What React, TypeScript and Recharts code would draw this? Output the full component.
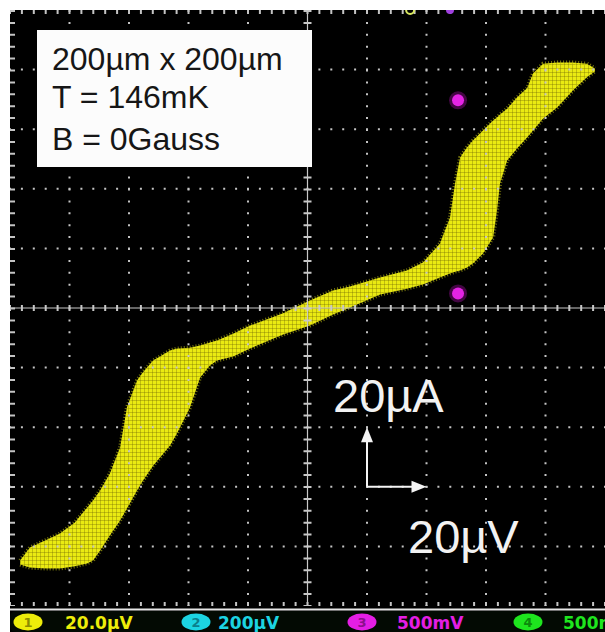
import React from 'react';
import {
    ComposedChart,
    Area,
    Scatter,
    XAxis,
    YAxis,
    ReferenceArea,
    ReferenceLine,
    ReferenceDot
} from 'recharts';

// trace band: voltage (µV), upper / lower edge of current (µA)
const bandVolt = [-96.6, -93.3, -88.2, -83.2, -78.2, -74.1, -72.1, -69.7, -66.4, -63.0, -60.7, -57.3, -55.3, -51.9, -49.6, -46.2, -43.9, -39.5, -36.1, -32.8, -30.4, -25.0, -19.3, -8.2, 0.8, 8.6, 14.3, 24.4, 33.4, 38.8, 44.5, 47.9, 49.6, 51.3, 53.6, 55.6, 59.0, 62.4, 63.7, 64.7, 67.1, 70.4, 73.8, 75.8, 79.2, 83.9, 89.2, 93.9, 96.6];
const bandTop = [-84.7, -80.4, -78.0, -75.7, -72.0, -67.0, -64.6, -61.2, -55.5, -46.8, -33.4, -24.3, -21.6, -17.6, -16.3, -14.3, -13.6, -13.3, -12.6, -11.6, -10.9, -8.6, -5.9, -1.8, 2.5, 5.9, 7.2, 10.2, 12.6, 15.3, 21.6, 30.4, 41.8, 50.5, 53.9, 56.2, 59.6, 62.9, 63.9, 64.9, 66.9, 70.6, 73.7, 78.7, 82.0, 82.4, 82.4, 82.0, 80.4];
const bandBottom = [-86.1, -87.1, -87.4, -87.4, -86.7, -85.7, -84.7, -81.4, -76.3, -71.3, -67.3, -61.2, -57.9, -52.9, -50.2, -46.1, -42.1, -33.4, -23.3, -19.3, -17.6, -16.3, -13.6, -8.9, -5.9, -2.2, 0.2, 4.5, 6.5, 7.9, 10.2, 11.6, 12.2, 12.6, 13.6, 14.9, 18.3, 23.7, 32.7, 41.8, 49.5, 53.5, 57.2, 59.6, 63.6, 67.3, 73.0, 77.4, 79.4];

// channel 3 markers
const markerVolt = [50.6, 50.6];
const markerCurr = [69.7, 4.9];

// graticule: 20 µV/div horizontally, 20 µA/div vertically
const gridLines = [-80, -60, -40, -20, 20, 40, 60, 80];
const FULL = 100;

// status bar channels
const channels = [
    { n: '1', label: '20.0µV', color: '#eded0a', dark: '#8c8c00', cx: 28, tx: 65 },
    { n: '2', label: '200µV', color: '#1cd4e2', dark: '#0b7f8c', cx: 196, tx: 218 },
    { n: '3', label: '500mV', color: '#e41ee4', dark: '#8a108a', cx: 362, tx: 397 },
    { n: '4', label: '500mV', color: '#1ee61e', dark: '#0c8a0c', cx: 528, tx: 563 }
];

const band = bandVolt.map((v, i) => ({ v, range: [bandBottom[i], bandTop[i]] }));
const markers = markerVolt.map((v, i) => ({ v, i: markerCurr[i] }));

const DOTS = '2 9.9';
const GRAY = '#c4c4c4';

const ArrowUp = (p: any) => (
    <path d={`M${p.cx} ${p.cy} L${p.cx - 6} ${p.cy + 15} L${p.cx + 6} ${p.cy + 15} Z`} fill="#f4f4f4" />
);
const ArrowRight = (p: any) => (
    <path d={`M${p.cx} ${p.cy} L${p.cx - 15} ${p.cy - 6} L${p.cx - 15} ${p.cy + 6} Z`} fill="#f4f4f4" />
);

const App: React.FC = () => {
    const sans = "'Liberation Sans', Arial, sans-serif";
    return (
        <div style={{ position: 'absolute', left: 0, top: 0, width: 605, height: 632, background: '#fff', overflow: 'hidden' }}>
            <ComposedChart
                width={605}
                height={632}
                data={band}
                margin={{ top: 10, right: 0, bottom: 26, left: 10 }}
            >
                <defs>
                    <pattern id="mesh" width="4" height="4" patternUnits="userSpaceOnUse">
                        <rect width="4" height="4" fill="#eaea12" />
                        <path d="M0 0H4M0 0V4" stroke="#5c5200" strokeWidth="0.8" strokeOpacity="0.75" />
                    </pattern>
                </defs>
                <XAxis dataKey="v" type="number" domain={[-FULL, FULL]} hide />
                <YAxis type="number" domain={[-FULL, FULL]} hide />
                <ReferenceArea x1={-FULL} x2={FULL} y1={-FULL} y2={FULL} fill="#000" fillOpacity={1} stroke="none" />

                {gridLines.map((g) => (
                    <ReferenceLine key={`gx${g}`} x={g} stroke={GRAY} strokeWidth={2} strokeDasharray={DOTS} strokeDashoffset={1} />
                ))}
                {gridLines.map((g) => (
                    <ReferenceLine key={`gy${g}`} y={g} stroke={GRAY} strokeWidth={2} strokeDasharray={DOTS} strokeDashoffset={1} />
                ))}

                {/* centre cross with minor ticks */}
                <ReferenceLine x={0} stroke="#c8c8c8" strokeWidth={1.2} />
                <ReferenceLine x={0} stroke="#c8c8c8" strokeWidth={8} strokeDasharray={DOTS} strokeDashoffset={1} />
                <ReferenceLine y={0} stroke="#c8c8c8" strokeWidth={1.2} />
                <ReferenceLine y={0} stroke="#c8c8c8" strokeWidth={6} strokeDasharray={DOTS} strokeDashoffset={1} />

                {/* edge ticks */}
                <ReferenceLine x={-FULL} stroke={GRAY} strokeWidth={10} strokeDasharray={DOTS} strokeDashoffset={1} ifOverflow="hidden" />
                <ReferenceLine y={FULL} stroke={GRAY} strokeWidth={8} strokeDasharray={DOTS} strokeDashoffset={1} ifOverflow="hidden" />
                <ReferenceLine y={-FULL} stroke={GRAY} strokeWidth={8} strokeDasharray={DOTS} strokeDashoffset={1} ifOverflow="hidden" />

                <Area
                    type="linear"
                    dataKey="range"
                    fill="url(#mesh)"
                    fillOpacity={1}
                    stroke="#dede1a"
                    strokeWidth={4}
                    strokeOpacity={0.55}
                    strokeDasharray="1 2"
                    isAnimationActive={false}
                    dot={false}
                    activeDot={false}
                />

                <Scatter
                    data={markers}
                    dataKey="i"
                    isAnimationActive={false}
                    shape={(p: any) => (
                        <g>
                            <circle cx={p.cx} cy={p.cy} r={9} fill="#c010c0" fillOpacity={0.35} />
                            <circle cx={p.cx} cy={p.cy} r={6} fill="#e424e4" />
                        </g>
                    )}
                />

                {/* trigger / position markers at the top edge */}
                <ReferenceDot x={34.5} y={FULL} r={4} fill="none" stroke="#d8e860" strokeWidth={2} ifOverflow="hidden" />
                <ReferenceDot x={47.9} y={FULL} r={4} fill="#a040e0" stroke="none" ifOverflow="hidden" />

                {/* scale arrows: one division each */}
                <ReferenceLine segment={[{ x: 20, y: -60 }, { x: 20, y: -42 }]} stroke="#f4f4f4" strokeWidth={2} />
                <ReferenceLine segment={[{ x: 20, y: -60 }, { x: 38, y: -60 }]} stroke="#f4f4f4" strokeWidth={2} />
                <ReferenceDot x={20} y={-40} shape={ArrowUp} />
                <ReferenceDot x={40} y={-60} shape={ArrowRight} />
            </ComposedChart>

            <svg width={605} height={632} style={{ position: 'absolute', left: 0, top: 0, pointerEvents: 'none' }}>
                <rect x={37} y={30} width={275} height={137} fill="#fcfcfc" />
                <text x={52} y={70} fontFamily={sans} fontSize={32} fill="#161616">200µm x 200µm</text>
                <text x={52} y={108} fontFamily={sans} fontSize={32} fill="#161616">T = 146mK</text>
                <text x={52} y={150} fontFamily={sans} fontSize={32} fill="#161616">B = 0Gauss</text>

                <text x={333} y={412} fontFamily={sans} fontSize={47} fill="#f2f2f2">20µA</text>
                <text x={408} y={553} fontFamily={sans} fontSize={47} fill="#f2f2f2">20µV</text>

                <rect x={10} y={606} width={595} height={26} fill="#000" />
                <line x1={10} x2={605} y1={609.5} y2={609.5} stroke="#e6e6e6" strokeWidth={2} />
                <rect x={10} y={611} width={600} height={21} rx={6} fill="#030a03" />
                {channels.map((c) => (
                    <g key={c.n}>
                        <ellipse cx={c.cx} cy={622} rx={14.5} ry={8.5} fill={c.color} />
                        <text x={c.cx} y={627} textAnchor="middle" fontFamily="'DejaVu Sans'" fontWeight="bold" fontSize={13} fill={c.dark}>{c.n}</text>
                        <text x={c.tx} y={628.5} fontFamily="'DejaVu Sans'" fontWeight="bold" fontSize={17} fill={c.color}>{c.label}</text>
                    </g>
                ))}
            </svg>
        </div>
    );
};

export default App;
